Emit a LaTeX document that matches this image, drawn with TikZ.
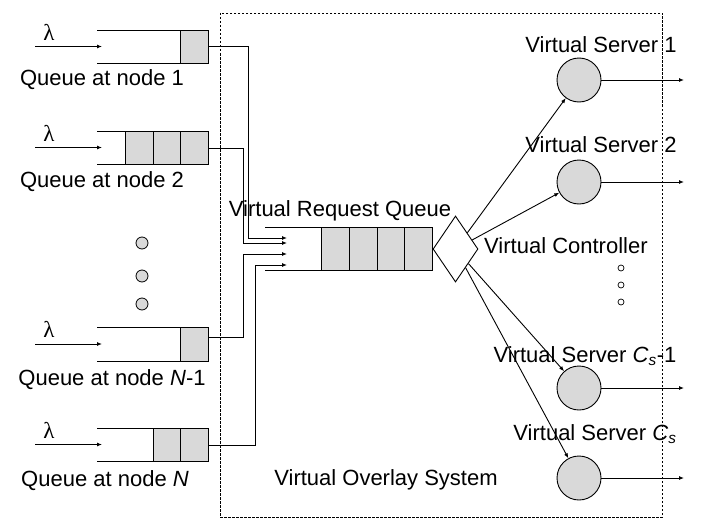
\documentclass[tikz,border=0pt]{standalone}
\usepackage{fontspec}
\setmainfont{Liberation Sans}
\newfontfamily\lamfont{Liberation Serif}
\usetikzlibrary{shapes.geometric,arrows.meta}
\tikzset{
  ln/.style={line width=0.9pt},
  arr/.style={ln,-{Latex[length=5pt,width=4pt]}},
  cell/.style={draw,line width=0.9pt,fill=cellgray,minimum width=27.7pt,inner sep=0pt,anchor=north east},
  lbl/.style={font=\fontsize{22}{24}\selectfont,inner sep=0pt},
  lam/.style={font=\lamfont\fontsize{23}{24}\selectfont,inner sep=0pt},
  server/.style={circle,draw,line width=0.9pt,fill=cellgray,minimum size=44pt,inner sep=0pt},
  bigdot/.style={circle,draw,line width=0.8pt,fill=cellgray,minimum size=12pt,inner sep=0pt},
  smalldot/.style={circle,draw,line width=0.7pt,fill=white,minimum size=6pt,inner sep=0pt},
}
\definecolor{cellgray}{RGB}{217,217,217}
\begin{document}
\begin{tikzpicture}[x=1pt,y=-1pt]
\useasboundingbox (0,0) rectangle (703,527);
% dashed system box
\draw[line width=0.7pt,dash pattern=on 2.5pt off 1.5pt] (220,13) rectangle (662,517);

% ---------- node queues ----------
% Queue 1
\draw[ln] (97,30) -- (209,30) (97,63) -- (209,63);
\node[cell,minimum height=33pt] (q1c1) at (209,30) {};
\node[lam] (l1) at (49,32) {λ};
\coordinate (q1in) at (35,46.5);
\coordinate (q1end) at (102,46.5);
\draw[arr] (q1in) -- (q1end);
\node[lbl] (t1) at (102,80) {Queue at node 1};

% Queue 2
\draw[ln] (97,131) -- (209,131) (97,164) -- (209,164);
\node[cell,minimum height=33pt] (q2c1) at (209,131) {};
\node[cell,minimum height=33pt] (q2c2) at (181.3,131) {};
\node[cell,minimum height=33pt] (q2c3) at (153.6,131) {};
\node[lam] (l2) at (49,133) {λ};
\coordinate (q2in) at (35,147.5);
\coordinate (q2end) at (102,147.5);
\draw[arr] (q2in) -- (q2end);
\node[lbl] (t2) at (102,182) {Queue at node 2};

% dots
\node[bigdot] (d1) at (142,243) {};
\node[bigdot] (d2) at (142,276) {};
\node[bigdot] (d3) at (142,304) {};

% Queue N-1
\draw[ln] (97,327) -- (209,327) (97,361) -- (209,361);
\node[cell,minimum height=34pt] (q3c1) at (209,327) {};
\node[lam] (l3) at (49,329) {λ};
\coordinate (q3in) at (35,344);
\coordinate (q3end) at (102,344);
\draw[arr] (q3in) -- (q3end);
\node[lbl] (t3) at (112,380) {Queue at node \textit{N}-1};

% Queue N
\draw[ln] (97,428) -- (209,428) (97,461) -- (209,461);
\node[cell,minimum height=33pt] (q4c1) at (209,428) {};
\node[cell,minimum height=33pt] (q4c2) at (181.3,428) {};
\node[lam] (l4) at (49,430) {λ};
\coordinate (q4in) at (35,444.5);
\coordinate (q4end) at (102,444.5);
\draw[arr] (q4in) -- (q4end);
\node[lbl] (t4) at (105,481) {Queue at node \textit{N}};

% ---------- request queue ----------
\draw[ln] (265,227) -- (433,227) (265,270) -- (433,270);
\node[cell,minimum height=43pt] (rc1) at (433,227) {};
\node[cell,minimum height=43pt] (rc2) at (405.3,227) {};
\node[cell,minimum height=43pt] (rc3) at (377.6,227) {};
\node[cell,minimum height=43pt] (rc4) at (349.9,227) {};
\node[lbl] (rqt) at (340,211) {Virtual Request Queue};

% inputs to request queue
\coordinate (in1) at (287,238);
\coordinate (in2) at (287,243);
\coordinate (in3) at (287,254);
\coordinate (in4) at (287,265);
\draw[arr] (q1c1.east) -| (248,238) -- (in1);
\draw[arr] (q2c1.east) -| (243.5,243) -- (in2);
\draw[arr] (209,337) -| (243.5,254) -- (in3);
\draw[arr] (q4c1.east) -| (255,265) -- (in4);

% ---------- controller ----------
\node[diamond,draw,line width=0.9pt,fill=white,minimum width=45pt,minimum height=66pt,inner sep=0pt] (ctrl) at (455.5,249) {};
\node[lbl,anchor=west] (ctl) at (484,246) {Virtual Controller};

% ---------- servers ----------
\node[server] (s1) at (579,80) {};
\node[server] (s2) at (579,182) {};
\node[server] (s3) at (579,388) {};
\node[server] (s4) at (579,478) {};
\node[lbl] (s1t) at (601,45) {Virtual Server 1};
\node[lbl] (s2t) at (601,145) {Virtual Server 2};
\node[lbl] (s3t) at (585,356) {Virtual Server \textit{C}\textsubscript{\textit{s}}-1};
\node[lbl] (s4t) at (595,434) {Virtual Server \textit{C}\textsubscript{\textit{s}}};

\node[smalldot] (e1) at (621,268) {};
\node[smalldot] (e2) at (621,285) {};
\node[smalldot] (e3) at (621,302) {};

\draw[arr] (ctrl) -- (s1);
\draw[arr] (ctrl) -- (s2);
\draw[arr] (ctrl) -- (s3);
\draw[arr] (ctrl) -- (s4);

\coordinate (o1) at (684,80);
\coordinate (o2) at (684,182);
\coordinate (o3) at (684,388);
\coordinate (o4) at (684,478);
\draw[arr] (s1) -- (o1);
\draw[arr] (s2) -- (o2);
\draw[arr] (s3) -- (o3);
\draw[arr] (s4) -- (o4);

\node[lbl] (vos) at (386,480) {Virtual Overlay System};
\end{tikzpicture}
\end{document}
